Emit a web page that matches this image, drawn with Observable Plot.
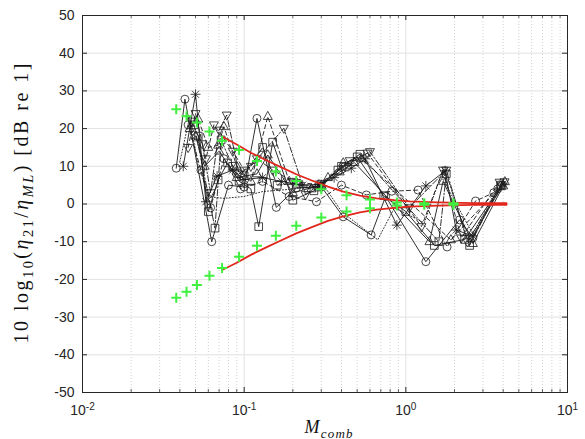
<!DOCTYPE html>
<html>
<head>
<meta charset="utf-8">
<script src="https://cdn.jsdelivr.net/npm/d3@7"></script>
<script src="https://cdn.jsdelivr.net/npm/@observablehq/plot@0.6"></script>
<style>
  body { margin: 0; background: #fff; }
  #chart svg { display: block; }
</style>
</head>
<body>
<div id="chart"></div>
<script>
// Loss-factor ratio versus combined modal overlap, measured configurations
// (black), with the upper/lower bound estimates (green +) and the fitted bounds (red).

const xTickValues = [0.01, 0.1, 1, 10];
const yTickValues = [-50, -40, -30, -20, -10, 0, 10, 20, 30, 40, 50];

// Measured configurations: [M_comb, dB]
const cfgStar = [[0.042,10],[0.050,29.1],[0.058,0.6],[0.068,7.4],[0.085,9],[0.10,6.5],[0.13,7],[0.17,6],[0.23,5],[0.29,5.2],[0.36,7],[0.46,9.5],[0.56,12],[0.88,-5.6],[1.33,4.8],[1.75,8.8],[2.05,-6.9],[2.6,-8.5],[4.0,5.3]];
const cfgCircle = [[0.038,9.5],[0.043,27.8],[0.063,-10],[0.08,5],[0.10,4.5],[0.12,22.7],[0.158,-0.9],[0.21,4.2],[0.30,4.6],[0.41,-3.4],[0.61,-8.2],[0.75,2],[1.33,-15.3],[2.15,-4.2],[2.6,-9],[3.7,4]];
const cfgTriUp = [[0.046,20],[0.052,22.5],[0.060,15],[0.069,15.6],[0.075,20.5],[0.09,10],[0.11,6],[0.14,23.2],[0.19,6],[0.26,4],[0.33,7],[0.41,10.9],[0.53,12],[1.9,-9.5],[4.1,5.9]];
const cfgTriDown = [[0.047,22],[0.055,16],[0.062,3],[0.070,19.6],[0.078,23.6],[0.093,8],[0.11,10],[0.176,20.1],[0.24,2.5],[0.30,5.5],[0.42,10],[0.60,13.9],[1.05,-1],[1.78,9],[2.40,-10],[4.08,5.9]];
const cfgSquare = [[0.052,18],[0.060,-2],[0.069,6.4],[0.079,10.9],[0.093,6.1],[0.11,4],[0.123,-6],[0.15,16.4],[0.20,1],[0.27,3.5],[0.38,9],[0.50,12.5],[0.73,2.2],[1.0,-2],[1.5,-11],[2.31,-9.4],[3.9,4.8]];
const cfgCircle2 = [[0.045,21],[0.054,9.0],[0.062,-1],[0.075,12],[0.095,4],[0.13,6],[0.19,2],[0.28,0.6],[0.40,5],[0.57,2.4],[0.82,3.4],[1.19,3.7],[1.8,-11.4],[2.7,0.8],[3.5,3]];
const cfgPlain = [[0.040,11.2],[0.046,23],[0.052,10],[0.062,1.9],[0.075,1.5],[0.10,2],[0.13,3.3],[0.18,3.8],[0.24,4.5],[0.31,5],[0.40,-2],[0.67,-9.5],[0.85,-1],[1.3,-5],[1.65,7.5],[2.6,-8],[3.7,4.5]];
const cfgSquare2 = [[0.049,21],[0.066,-6.4],[0.072,17],[0.085,10],[0.10,7.5],[0.13,15],[0.16,5],[0.21,5.5],[0.29,4.5],[0.40,10],[0.52,13.2],[1.6,-10],[1.78,8],[2.48,-11],[3.85,5]];
const cfgTriDown2 = [[0.045,15],[0.050,24],[0.058,12],[0.065,21],[0.085,14],[0.10,9],[0.12,12],[0.15,9],[0.20,6],[0.30,5],[0.45,11.5],[0.58,13.5],[1.25,-6],[1.7,9],[2.2,-9],[3.8,5.8]];
const cfgTriUp2 = [[0.050,18],[0.057,10],[0.070,14],[0.090,7],[0.12,8],[0.14,13],[0.20,3],[0.30,5],[0.39,8.5],[0.48,11],[1.4,-10],[1.7,6],[2.6,-10.5],[4.0,4.8]];

// Estimated bounds (green +)
const estM = [0.038, 0.044, 0.051, 0.061, 0.073, 0.093, 0.12, 0.157, 0.21, 0.30, 0.43, 0.60, 0.88, 1.3, 1.97];
const estUpper = [25.1, 23.3, 21.6, 19.2, 16.8, 14.3, 11.4, 8.6, 6.1, 3.9, 2.3, 1.2, 0.4, 0.2, 0.2];
const estLower = [-24.9, -23.3, -21.5, -19.0, -17.0, -14.0, -11.1, -8.4, -5.8, -3.6, -2.0, -1.1, -0.4, -0.2, -0.2];

// Fitted bounds (red)
const fitM = [0.073, 0.09, 0.11, 0.14, 0.17, 0.21, 0.26, 0.33, 0.41, 0.52, 0.66, 0.85, 1.06, 1.4, 1.87, 2.6, 4.2];
const fitUpper = [17.9, 15.8, 13.6, 11.4, 9.7, 7.9, 6.3, 4.6, 3.3, 2.2, 1.5, 1.0, 0.7, 0.5, 0.35, 0.25, 0.2];
const fitLower = [-17.5, -15.6, -13.5, -11.3, -9.6, -7.8, -6.2, -4.5, -3.3, -2.2, -1.5, -1.0, -0.7, -0.5, -0.35, -0.25, -0.2];

// Marker shapes, sized from the dot radius
function shape(fn) {
  return { draw(ctx, size) { fn(ctx, Math.sqrt(size / Math.PI)); } };
}
const mkCircle = shape((c, r) => { c.moveTo(r, 0); c.arc(0, 0, r, 0, 2 * Math.PI); });
const mkTriUp = shape((c, r) => { c.moveTo(0, -r * 1.15); c.lineTo(r, r * 0.65); c.lineTo(-r, r * 0.65); c.closePath(); });
const mkTriDown = shape((c, r) => { c.moveTo(0, r * 1.15); c.lineTo(r, -r * 0.65); c.lineTo(-r, -r * 0.65); c.closePath(); });
const mkSquare = shape((c, r) => { c.rect(-r * 0.85, -r * 0.85, r * 1.7, r * 1.7); });
const mkStar = shape((c, r) => {
  for (let k = 0; k < 4; k++) {
    const a = k * Math.PI / 4, dx = Math.cos(a) * r, dy = Math.sin(a) * r;
    c.moveTo(-dx, -dy); c.lineTo(dx, dy);
  }
});
const mkPlus = shape((c, r) => { c.moveTo(-r, 0); c.lineTo(r, 0); c.moveTo(0, -r); c.lineTo(0, r); });

const DASHED = "4,3", DASHDOT = "6,2,1.5,2", DOTTED = "1,2";
const configs = [
  { data: cfgStar, dash: null, marker: mkStar, r: 5 },
  { data: cfgCircle, dash: null, marker: mkCircle, r: 4 },
  { data: cfgTriUp, dash: DASHED, marker: mkTriUp, r: 4.5 },
  { data: cfgTriDown, dash: DASHDOT, marker: mkTriDown, r: 4.5 },
  { data: cfgSquare, dash: null, marker: mkSquare, r: 4.5 },
  { data: cfgCircle2, dash: DASHED, marker: mkCircle, r: 4 },
  { data: cfgPlain, dash: DOTTED, marker: null, r: 0 },
  { data: cfgSquare2, dash: DASHDOT, marker: mkSquare, r: 4.5 },
  { data: cfgTriDown2, dash: DASHED, marker: mkTriDown, r: 4.5 },
  { data: cfgTriUp2, dash: null, marker: mkTriUp, r: 4.5 }
];

const W = 585, H = 439;
const mL = 82, mR = 18, mT = 15, mB = 47;
const innerW = W - mL - mR, innerH = H - mT - mB;
const axisColor = "#262626";
const ink = "#1a1a1a";

const xMinor = [];
for (const dec of [0.01, 0.1, 1]) for (let k = 2; k <= 9; k++) xMinor.push(+(dec * k).toPrecision(3));

const est = estM.map((m, i) => ({ m, up: estUpper[i], lo: estLower[i] }));
const fit = fitM.map((m, i) => ({ m, up: fitUpper[i], lo: fitLower[i] }));

const marks = [
  // grid
  Plot.ruleX(xMinor, { stroke: "#bdbdbd", strokeDasharray: "1,2", strokeWidth: 0.7 }),
  Plot.ruleX(xTickValues, { stroke: "#e2e2e2" }),
  Plot.ruleY(yTickValues, { stroke: "#e2e2e2" })
];

for (const c of configs) {
  marks.push(Plot.line(c.data, { x: "0", y: "1", stroke: ink, strokeWidth: 0.9, strokeDasharray: c.dash }));
  if (c.marker) marks.push(Plot.dot(c.data, { x: "0", y: "1", symbol: c.marker, r: c.r, stroke: ink, fill: "none", strokeWidth: 0.8 }));
}

marks.push(
  Plot.line(fit, { x: "m", y: "up", stroke: "#e1261c", strokeWidth: 1.8 }),
  Plot.line(fit, { x: "m", y: "lo", stroke: "#e1261c", strokeWidth: 1.8 }),
  Plot.dot(est, { x: "m", y: "up", symbol: mkPlus, r: 5, stroke: "#3ff03f", strokeWidth: 2, fill: "none" }),
  Plot.dot(est, { x: "m", y: "lo", symbol: mkPlus, r: 5, stroke: "#3ff03f", strokeWidth: 2, fill: "none" }),
  // inward ticks on all four sides
  Plot.ruleX(xTickValues, { insetTop: innerH - 5, stroke: axisColor }),
  Plot.ruleX(xTickValues, { insetBottom: innerH - 5, stroke: axisColor }),
  Plot.ruleX(xMinor, { insetTop: innerH - 3, stroke: axisColor, strokeWidth: 0.7 }),
  Plot.ruleX(xMinor, { insetBottom: innerH - 3, stroke: axisColor, strokeWidth: 0.7 }),
  Plot.ruleY(yTickValues, { insetRight: innerW - 5, stroke: axisColor }),
  Plot.ruleY(yTickValues, { insetLeft: innerW - 5, stroke: axisColor }),
  Plot.frame({ stroke: axisColor }),
  Plot.axisY(yTickValues, { tickSize: 0, tickPadding: 8, label: null, fontSize: 14, tickFormat: d => String(d) }),
  Plot.axisX(xTickValues, { tickSize: 0, tickPadding: 13, label: null, fontSize: 14,
    tickFormat: d => "10^" + Math.round(Math.log10(d)) })
);

const chart = Plot.plot({
  width: W, height: H,
  marginLeft: mL, marginRight: mR, marginTop: mT, marginBottom: mB,
  x: { type: "log", domain: [0.01, 10] },
  y: { domain: [-50, 50] },
  style: { fontFamily: "'Liberation Sans', Arial, sans-serif", fontSize: "14px", color: axisColor, background: "#fff" },
  marks
});
document.getElementById("chart").appendChild(chart);

const svg = d3.select(chart);

// powers of ten on the x axis
svg.selectAll('g[aria-label="x-axis tick label"] text').each(function () {
  const [base, exp] = this.textContent.split("^");
  const t = d3.select(this);
  t.text(base);
  t.append("tspan").attr("dy", "-0.55em").attr("font-size", "10px").text(exp);
});

// rich-text labels (subscripts, italics)
function richText(sel, parts, size) {
  let shift = 0;
  for (const p of parts) {
    const target = p.sub ? size * 0.25 : 0;
    const ts = sel.append("tspan").attr("dy", target - shift).text(p.t);
    if (p.sub) ts.attr("font-size", size * 0.72);
    if (p.it) ts.attr("font-style", "italic");
    shift = target;
  }
}

const serif = "'Liberation Serif', 'DejaVu Serif', serif";
const yLabel = svg.append("text")
  .attr("transform", `translate(28,${(mT + H - mB) / 2}) rotate(-90)`)
  .attr("text-anchor", "middle")
  .attr("textLength", 280).attr("lengthAdjust", "spacing")
  .attr("font-family", serif).attr("font-size", 20).attr("fill", "#111");
richText(yLabel, [
  { t: "10 log" }, { t: "10", sub: true }, { t: "(" }, { t: "η", it: true },
  { t: "21", sub: true }, { t: "/" }, { t: "η", it: true }, { t: "ML", sub: true, it: true },
  { t: ") [dB re 1]" }
], 20);

const xLabel = svg.append("text")
  .attr("x", mL + innerW * 0.5 + 4).attr("y", 433)
  .attr("text-anchor", "middle")
  .attr("textLength", 48).attr("lengthAdjust", "spacing")
  .attr("font-family", serif).attr("font-size", 18).attr("fill", "#111");
richText(xLabel, [{ t: "M", it: true }, { t: "comb", sub: true, it: true }], 18);
</script>
</body>
</html>
